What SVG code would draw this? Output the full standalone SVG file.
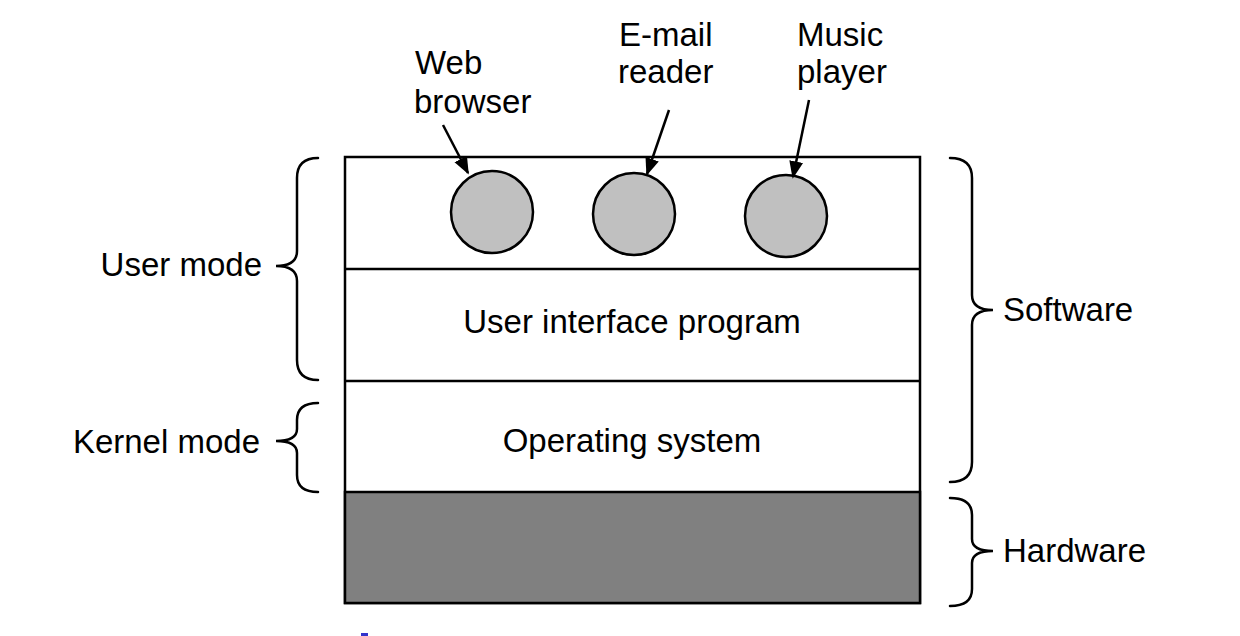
<svg xmlns="http://www.w3.org/2000/svg" width="1240" height="636" viewBox="0 0 1240 636">
<defs>
<style>
.t{font-family:"Liberation Sans",Arial,sans-serif;font-size:33px;fill:#000}
.c{text-anchor:middle}
.e{text-anchor:end}
.br{fill:none;stroke:#000;stroke-width:2.5;stroke-linecap:round}
.ln{stroke:#000;stroke-width:2.5}
.ap{fill:#c0c0c0;stroke:#000;stroke-width:2.5}
</style>
<marker id="ah" viewBox="0 0 10 10" refX="9" refY="5" markerWidth="7" markerHeight="7" markerUnits="strokeWidth" orient="auto">
<path d="M0,1 L10,5 L0,9 z" fill="#000"/>
</marker>
</defs>
<rect width="1240" height="636" fill="#fff"/>
<g id="stack">
<rect x="345" y="157" width="575" height="446" fill="#fff" stroke="#000" stroke-width="2.5"/>
<rect x="345" y="492" width="575" height="111" fill="#808080" stroke="#000" stroke-width="2.5"/>
<line class="ln" x1="345" y1="269" x2="920" y2="269"/>
<line class="ln" x1="345" y1="381" x2="920" y2="381"/>
</g>
<g id="ui"><text class="t c" x="632" y="333">User interface program</text></g>
<g id="os"><text class="t c" x="632" y="452">Operating system</text></g>
<g id="web"><circle class="ap" cx="492" cy="212" r="41"/><text class="t" x="415" y="74">Web</text><text class="t" x="414" y="113">browser</text></g>
<g id="email"><circle class="ap" cx="634" cy="214" r="41"/><text class="t" x="619" y="46">E-mail</text><text class="t" x="618" y="83">reader</text></g>
<g id="music"><circle class="ap" cx="786" cy="216" r="41"/><text class="t" x="797" y="46">Music</text><text class="t" x="797" y="83">player</text></g>
<g id="connectors">
<line class="ln" x1="443" y1="125" x2="468" y2="173" marker-end="url(#ah)"/>
<line class="ln" x1="669" y1="110" x2="647" y2="174" marker-end="url(#ah)"/>
<line class="ln" x1="809" y1="100" x2="793" y2="177" marker-end="url(#ah)"/>
</g>
<g id="user-mode">
<path class="br" d="M318,158 Q297,158 297,178 L297,251 Q297,266 276,266 Q297,266 297,281 L297,360 Q297,380 318,380"/>
<text class="t e" x="262" y="276">User mode</text>
</g>
<g id="kernel-mode">
<path class="br" d="M318,403 Q297,403 297,420 L297,429 Q297,441 276,441 Q297,441 297,453 L297,475 Q297,492 318,492"/>
<text class="t e" x="260" y="453">Kernel mode</text>
</g>
<g id="software">
<path class="br" d="M950,158 Q972,158 972,178 L972,295 Q972,310 993,310 Q972,310 972,325 L972,462 Q972,482 950,482"/>
<text class="t" x="1003" y="321">Software</text>
</g>
<g id="hardware">
<path class="br" d="M950,498 Q972,498 972,515 L972,539 Q972,551 993,551 Q972,551 972,563 L972,589 Q972,606 950,606"/>
<text class="t" x="1003" y="562">Hardware</text>
</g>
<rect x="361" y="633" width="7" height="3" fill="#3333cc"/>
</svg>
